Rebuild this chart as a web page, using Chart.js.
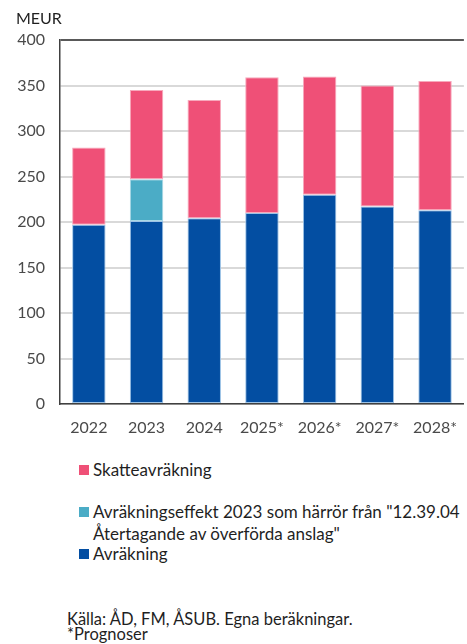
<!DOCTYPE html>
<html>
<head>
<meta charset="utf-8">
<script src="https://cdn.jsdelivr.net/npm/chart.js@4"></script>
<style>
  body { margin: 0; background: #fff; overflow: hidden; font-family: Lato, sans-serif; color: #1f1f1f; }
  #wrap { position: relative; width: 467px; height: 644px; overflow: hidden; }
  #box { position: absolute; left: 0; top: 0; width: 471px; height: 445px; }
  #meur { position: absolute; left: 16px; top: 9px; font-size: 16px; line-height: 18px; color: #1f1f1f; }
  .leg { position: absolute; left: 93px; font-size: 17px; line-height: 22px; color: #1f1f1f; white-space: nowrap; }
  .sw { position: absolute; left: -14px; top: 6px; width: 10px; height: 10px; }
  .src { position: absolute; left: 67px; font-size: 16.5px; line-height: 16px; color: #1f1f1f; white-space: nowrap; }
</style>
</head>
<body>
<div id="wrap">
  <div id="box"><canvas id="myChart"></canvas></div>
  <div id="meur">MEUR</div>
  <div class="leg" style="top:459px"><span class="sw" style="background:#ef5077"></span>Skatteavräkning</div>
  <div class="leg" style="top:501px"><span class="sw" style="background:#4bacc6"></span>Avräkningseffekt 2023 som härrör från "12.39.04<br>Återtagande av överförda anslag"</div>
  <div class="leg" style="top:543px"><span class="sw" style="background:#034ea2"></span>Avräkning</div>
  <div class="src" style="top:611px">Källa: ÅD, FM, ÅSUB. Egna beräkningar.</div>
  <div class="src" style="top:626px">*Prognoser</div>
</div>
<script>
const labels = ['2022', '2023', '2024', '2025*', '2026*', '2027*', '2028*']

const avrakning = [197, 201, 204, 210, 230, 217, 213]
const avrakningseffekt = [0, 46, 0, 0, 0, 0, 0]
const skatteavrakning = [85, 98, 130, 149, 130, 133, 142]

const yTicks = [0, 50, 100, 150, 200, 250, 300, 350, 400]

const data = {
  labels: labels,
  datasets: [
    {
      label: 'Avräkning',
      data: avrakning,
      backgroundColor: '#034ea2',
      borderColor: '#9dc3e6',
      borderWidth: 1,
      borderSkipped: false
    },
    {
      label: 'Avräkningseffekt 2023 som härrör från "12.39.04 Återtagande av överförda anslag"',
      data: avrakningseffekt,
      backgroundColor: '#4bacc6',
      borderColor: '#a9d8e6',
      borderWidth: 1,
      borderSkipped: false
    },
    {
      label: 'Skatteavräkning',
      data: skatteavrakning,
      backgroundColor: '#ef5077',
      borderColor: '#f7a9bc',
      borderWidth: 1,
      borderSkipped: false
    }
  ]
}

const config = {
  type: 'bar',
  data: data,
  options: {
    responsive: true,
    maintainAspectRatio: false,
    animation: false,
    layout: { padding: { top: 40, right: 0, bottom: 0, left: 0 } },
    datasets: { bar: { categoryPercentage: 1, barPercentage: 0.58 } },
    plugins: {
      legend: { display: false },
      tooltip: { enabled: false }
    },
    scales: {
      x: {
        stacked: true,
        grid: { display: false, drawTicks: false },
        border: { display: true, color: '#404040', width: 1.5 },
        ticks: { color: '#4a4a4a', font: { family: 'Lato', size: 16 }, padding: 14 },
        afterFit: function (scale) { scale.height = 41 }
      },
      y: {
        stacked: true,
        min: 0,
        max: 400,
        afterBuildTicks: function (scale) { scale.ticks = yTicks.map(v => ({ value: v })) },
        grid: {
          drawTicks: false,
          lineWidth: 2,
          color: function (ctx) { return ctx.tick && ctx.tick.value === 400 ? '#595959' : '#d9d9d9' }
        },
        border: { display: true, color: '#404040', width: 1.5 },
        ticks: { color: '#4a4a4a', font: { family: 'Lato', size: 16 }, padding: 15 },
        afterFit: function (scale) { scale.width = 60 }
      }
    }
  }
}

const myChart = new Chart(document.getElementById('myChart'), config)
</script>
</body>
</html>
